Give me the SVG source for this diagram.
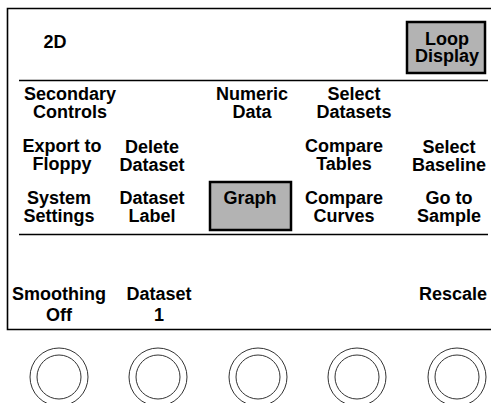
<svg xmlns="http://www.w3.org/2000/svg" width="491" height="403" viewBox="0 0 491 403">
<style>
text{font-family:"Liberation Sans",Arial,sans-serif;font-weight:bold;font-size:18px;fill:#000;text-anchor:middle}
.frame{stroke:#000;stroke-width:1.6;fill:none}
.btn{fill:#b3b3b3;stroke:#000;stroke-width:2.5}
.knob{fill:none;stroke:#333;stroke-width:1}
</style>
<rect width="491" height="403" fill="#fff"/>
<g id="frame">
<path class="frame" d="M491,8.5H7.5V329.5H491"/>
<line class="frame" x1="19" y1="80.5" x2="488" y2="80.5"/>
<line class="frame" x1="19" y1="234.5" x2="488" y2="234.5"/>
</g>
<g id="title"><text x="55" y="48">2D</text></g>
<g id="loop-display"><rect class="btn" x="407" y="22" width="78" height="51"/><text x="447" y="45">Loop<tspan x="447" dy="17">Display</tspan></text></g>
<g id="secondary-controls"><text x="70" y="100">Secondary<tspan x="70" dy="17.5">Controls</tspan></text></g>
<g id="numeric-data"><text x="252" y="100">Numeric<tspan x="252" dy="17.5">Data</tspan></text></g>
<g id="select-datasets"><text x="354" y="100">Select<tspan x="354" dy="17.5">Datasets</tspan></text></g>
<g id="export-floppy"><text x="62" y="152">Export to<tspan x="62" dy="17.5">Floppy</tspan></text></g>
<g id="delete-dataset"><text x="152" y="152.5">Delete<tspan x="152" dy="18">Dataset</tspan></text></g>
<g id="compare-tables"><text x="344" y="152">Compare<tspan x="344" dy="17.5">Tables</tspan></text></g>
<g id="select-baseline"><text x="449" y="152.5">Select<tspan x="449" dy="18">Baseline</tspan></text></g>
<g id="system-settings"><text x="59" y="204">System<tspan x="59" dy="18">Settings</tspan></text></g>
<g id="dataset-label"><text x="152" y="204">Dataset<tspan x="152" dy="18">Label</tspan></text></g>
<g id="graph"><rect class="btn" x="210" y="182" width="81" height="48"/><text x="250" y="204">Graph</text></g>
<g id="compare-curves"><text x="344" y="204">Compare<tspan x="344" dy="18">Curves</tspan></text></g>
<g id="go-to-sample"><text x="449" y="204">Go to<tspan x="449" dy="18">Sample</tspan></text></g>
<g id="smoothing-off"><text x="59" y="300">Smoothing<tspan x="59" dy="21">Off</tspan></text></g>
<g id="dataset-1"><text x="159" y="300">Dataset<tspan x="159" dy="21">1</tspan></text></g>
<g id="rescale"><text x="453" y="300">Rescale</text></g>
<g id="knobs">
<circle class="knob" cx="59" cy="377" r="29"/><circle class="knob" cx="59" cy="377" r="22"/>
<circle class="knob" cx="158" cy="377" r="29"/><circle class="knob" cx="158" cy="377" r="22"/>
<circle class="knob" cx="258" cy="377" r="29"/><circle class="knob" cx="258" cy="377" r="22"/>
<circle class="knob" cx="357" cy="377" r="29"/><circle class="knob" cx="357" cy="377" r="22"/>
<circle class="knob" cx="457" cy="377" r="29"/><circle class="knob" cx="457" cy="377" r="22"/>
</g>
<g id="connectors"></g>
</svg>
